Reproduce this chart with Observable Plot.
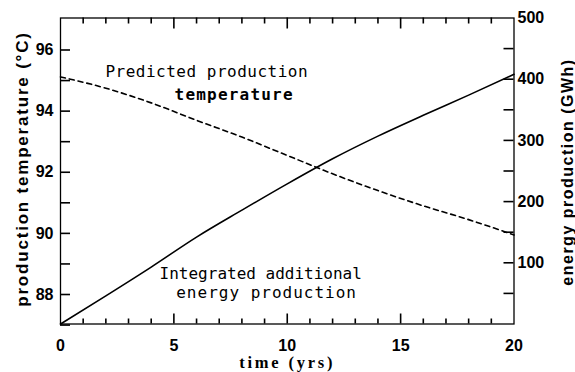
<!DOCTYPE html>
<html><head><meta charset="utf-8">
<script src="https://cdn.jsdelivr.net/npm/d3@7"></script>
<script src="https://cdn.jsdelivr.net/npm/@observablehq/plot@0.6"></script>
<style>body{margin:0;background:#fff}</style>
</head><body><div id="chart"></div>
<script>
// ---- data ----
const years = [0, 2, 4, 6, 8, 10, 12, 14, 16, 18, 20];
const temperature = [95.12, 94.75, 94.27, 93.70, 93.15, 92.55, 91.95, 91.40, 90.90, 90.45, 89.95];
const energy = [0, 46, 93, 142, 186, 229, 270, 307, 341, 374, 408];

const tempTicks = [88, 90, 92, 94, 96];
const tempAllTicks = [87, 88, 89, 90, 91, 92, 93, 94, 95, 96];
const energyTicks = [100, 200, 300, 400, 500];
const energyAllTicks = [50, 100, 150, 200, 250, 300, 350, 400, 450];
const timeTicks = [0, 5, 10, 15, 20];
const timeMajorInner = [5, 10, 15];
const timeMinorTicks = [1, 2, 3, 4, 6, 7, 8, 9, 11, 12, 13, 14, 16, 17, 18, 19];

const xTitle = "time (yrs)";
const leftTitle = "production temperature (°C)";
const rightTitle = "energy production (GWh)";
const tempLabel = ["Predicted production", "temperature"];
const energyLabel = ["Integrated additional", "energy production"];

// ---- build ----
const W = 575, H = 372;
const mL = 60, mR = 61.5, mT = 17.5, mB = 48.5;
const frameW = W - mL - mR, frameH = H - mT - mB;

const tempDomain = [87.035, 97.047];
const energyDomain = [0, 500];
const e2t = d3.scaleLinear().domain(energyDomain).range(tempDomain);

const rows = years.map((t, i) => ({t, temp: temperature[i], energy: energy[i]}));

const mono = "'DejaVu Sans Mono', 'Liberation Mono', monospace";
const tick = {stroke: "black", strokeWidth: 1.6};

const chart = Plot.plot({
  width: W, height: H,
  marginLeft: mL, marginRight: mR, marginTop: mT, marginBottom: mB,
  x: {domain: [0, 20]},
  y: {domain: tempDomain},
  style: {fontFamily: "'Liberation Sans', Arial, sans-serif", fontSize: "16px", fontWeight: "bold", color: "black", background: "white", overflow: "visible"},
  marks: [
    Plot.frame({stroke: "black", strokeWidth: 1.3}),
    // inward ticks
    Plot.tickY(tempAllTicks, {y: d => d, insetRight: frameW - 10, ...tick}),
    Plot.tickY(energyAllTicks, {y: d => e2t(d), insetLeft: frameW - 10, ...tick}),
    Plot.tickX(timeMajorInner, {x: d => d, insetTop: frameH - 10, ...tick}),
    Plot.tickX(timeMinorTicks, {x: d => d, insetTop: frameH - 5, ...tick}),
    Plot.tickX(timeMajorInner, {x: d => d, insetBottom: frameH - 11, ...tick}),
    Plot.tickX(timeMinorTicks, {x: d => d, insetBottom: frameH - 6, ...tick}),
    // tick labels
    Plot.axisY(tempTicks, {anchor: "left", tickSize: 0, tickPadding: 7, label: null}),
    Plot.axisY(energyTicks.map(e2t), {anchor: "right", tickSize: 0, tickPadding: 3.5,
      tickFormat: t => String(Math.round(e2t.invert(t))), label: null}),
    Plot.axisX(timeTicks, {anchor: "bottom", tickSize: 0, tickPadding: 16, tickFormat: d => String(d), label: null}),
    // titles
    Plot.text([xTitle], {frameAnchor: "bottom", dy: 38.5, textAnchor: "middle", lineAnchor: "middle", fontFamily: "'Liberation Serif', serif", fontSize: 16.5, fontWeight: "bold"}),
    Plot.text([leftTitle], {frameAnchor: "left", dx: -38, dy: -2, rotate: -90, textAnchor: "middle", lineAnchor: "middle", fontSize: 17, fontWeight: "bold"}),
    Plot.text([rightTitle], {frameAnchor: "right", dx: 53.5, dy: 1, rotate: -90, textAnchor: "middle", lineAnchor: "middle", fontSize: 16, fontWeight: "bold"}),
    // series
    Plot.line(rows, {x: "t", y: "temp", stroke: "black", strokeWidth: 1.6, strokeDasharray: "5,4", curve: "monotone-x"}),
    Plot.line(rows, {x: "t", y: d => e2t(d.energy), stroke: "black", strokeWidth: 1.6, curve: "monotone-x"}),
    // annotations
    Plot.text([tempLabel[0]], {x: 6.45, y: 95.27, lineAnchor: "middle", fontFamily: mono, fontSize: 16, fontWeight: "normal"}),
    Plot.text([tempLabel[1]], {x: 7.66, y: 94.52, lineAnchor: "middle", fontFamily: mono, fontSize: 16, fontWeight: "bold"}),
    Plot.text([energyLabel[0]], {x: 8.83, y: 88.68, lineAnchor: "middle", fontFamily: mono, fontSize: 16, fontWeight: "normal"}),
    Plot.text([energyLabel[1]], {x: 9.09, y: 88.04, lineAnchor: "middle", fontFamily: mono, fontSize: 16, fontWeight: "normal"})
  ]
});

// letter spacing (not a Plot text option) applied after rendering
const spacing = [[xTitle, "2.8px"], [leftTitle, "1.8px"], [rightTitle, "1.5px"],
  [tempLabel[0], "0.5px"], [tempLabel[1], "1.2px"], [energyLabel[1], "1px"]];
for (const [txt, ls] of spacing) {
  d3.select(chart).selectAll("text").filter(function () { return this.textContent === txt; }).style("letter-spacing", ls);
}
document.getElementById("chart").appendChild(chart);
</script>
</body></html>
